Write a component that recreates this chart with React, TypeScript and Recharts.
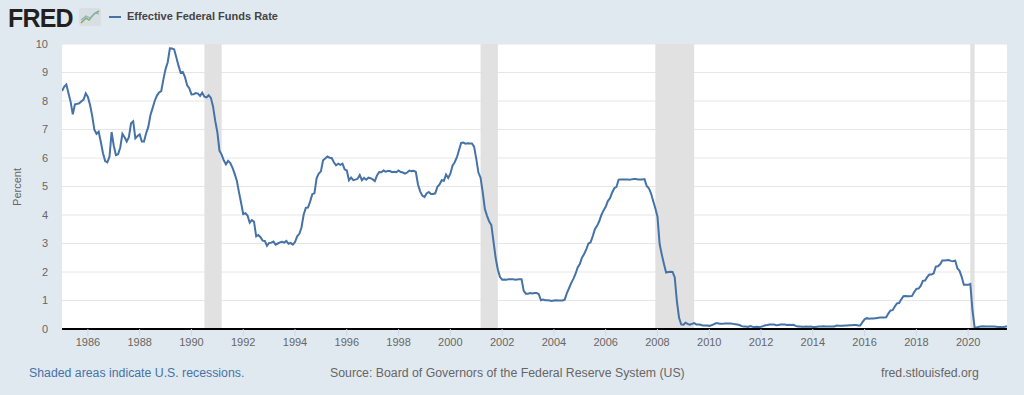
import React from 'react';
import { LineChart, Line, XAxis, YAxis, CartesianGrid, ReferenceArea } from 'recharts';

// monthly effective federal funds rate, percent, starting Jan of the first year
const START_YEAR = 1985;
const rates1980s = [
  8.35, 8.5, 8.58, 8.27, 7.97, 7.53, 7.88, 7.9, 7.92, 7.99, 8.05, 8.27,
  8.14, 7.86, 7.48, 6.99, 6.85, 6.92, 6.56, 6.17, 5.89, 5.85, 6.04, 6.91,
  6.43, 6.1, 6.13, 6.37, 6.85, 6.73, 6.58, 6.73, 7.22, 7.29, 6.69, 6.77,
  6.83, 6.58, 6.58, 6.87, 7.09, 7.51, 7.75, 8.01, 8.19, 8.3, 8.35, 8.76,
  9.12, 9.36, 9.85, 9.84, 9.81, 9.53, 9.24, 8.99, 9.02, 8.84, 8.55, 8.45,
];
const rates1990s = [
  8.23, 8.24, 8.28, 8.26, 8.18, 8.29, 8.15, 8.13, 8.2, 8.11, 7.81, 7.31,
  6.91, 6.25, 6.12, 5.91, 5.78, 5.9, 5.82, 5.66, 5.45, 5.21, 4.81, 4.43,
  4.03, 4.06, 3.98, 3.73, 3.82, 3.76, 3.25, 3.3, 3.22, 3.1, 3.09, 2.92,
  3.02, 3.03, 3.07, 2.96, 3.0, 3.04, 3.06, 3.03, 3.09, 2.99, 3.02, 2.96,
  3.05, 3.25, 3.34, 3.56, 4.01, 4.25, 4.26, 4.47, 4.73, 4.76, 5.29, 5.45,
  5.53, 5.92, 5.98, 6.05, 6.01, 6.0, 5.85, 5.74, 5.8, 5.76, 5.8, 5.6,
  5.56, 5.22, 5.31, 5.22, 5.24, 5.27, 5.4, 5.22, 5.3, 5.24, 5.31, 5.29,
  5.25, 5.19, 5.39, 5.51, 5.5, 5.56, 5.52, 5.54, 5.54, 5.5, 5.52, 5.5,
  5.56, 5.51, 5.49, 5.45, 5.49, 5.56, 5.54, 5.55, 5.51, 5.07, 4.83, 4.68,
  4.63, 4.76, 4.81, 4.74, 4.74, 4.76, 4.99, 5.07, 5.22, 5.2, 5.42, 5.3,
];
const rates2000s = [
  5.45, 5.73, 5.85, 6.02, 6.27, 6.53, 6.54, 6.5, 6.52, 6.51, 6.51, 6.4,
  5.98, 5.49, 5.31, 4.8, 4.21, 3.97, 3.77, 3.65, 3.07, 2.49, 2.09, 1.82,
  1.73, 1.74, 1.73, 1.75, 1.75, 1.75, 1.73, 1.74, 1.75, 1.75, 1.34, 1.24,
  1.24, 1.26, 1.25, 1.26, 1.26, 1.22, 1.01, 1.03, 1.01, 1.01, 1.0, 0.98,
  1.0, 1.01, 1.0, 1.0, 1.0, 1.03, 1.26, 1.43, 1.61, 1.76, 1.93, 2.16,
  2.28, 2.5, 2.63, 2.79, 3.0, 3.04, 3.26, 3.5, 3.62, 3.78, 4.0, 4.16,
  4.29, 4.49, 4.59, 4.79, 4.94, 4.99, 5.24, 5.25, 5.25, 5.25, 5.25, 5.24,
  5.25, 5.26, 5.26, 5.25, 5.25, 5.25, 5.26, 5.02, 4.94, 4.76, 4.49, 4.24,
  3.94, 2.98, 2.61, 2.28, 1.98, 2.0, 2.01, 2.0, 1.81, 0.97, 0.39, 0.16,
  0.15, 0.22, 0.18, 0.15, 0.18, 0.21, 0.16, 0.16, 0.15, 0.12, 0.12, 0.12,
];
const rates2010s = [
  0.11, 0.13, 0.16, 0.2, 0.2, 0.18, 0.18, 0.19, 0.19, 0.19, 0.19, 0.18,
  0.17, 0.16, 0.14, 0.1, 0.09, 0.09, 0.07, 0.1, 0.08, 0.07, 0.08, 0.07,
  0.08, 0.1, 0.13, 0.14, 0.16, 0.16, 0.16, 0.13, 0.14, 0.16, 0.16, 0.16,
  0.14, 0.15, 0.14, 0.15, 0.11, 0.09, 0.09, 0.08, 0.08, 0.09, 0.08, 0.09,
  0.07, 0.07, 0.08, 0.09, 0.09, 0.1, 0.09, 0.09, 0.09, 0.09, 0.09, 0.12,
  0.11, 0.11, 0.11, 0.12, 0.12, 0.13, 0.13, 0.14, 0.14, 0.12, 0.12, 0.24,
  0.34, 0.38, 0.36, 0.37, 0.37, 0.38, 0.39, 0.4, 0.4, 0.4, 0.41, 0.54,
  0.65, 0.66, 0.79, 0.9, 0.91, 1.04, 1.15, 1.16, 1.15, 1.15, 1.16, 1.3,
  1.41, 1.42, 1.51, 1.69, 1.7, 1.82, 1.91, 1.91, 1.95, 2.19, 2.2, 2.27,
  2.4, 2.4, 2.41, 2.42, 2.39, 2.38, 2.4, 2.13, 2.04, 1.83, 1.55, 1.55,
];
const rates2020s = [
  1.55, 1.58, 0.65, 0.05, 0.05, 0.08, 0.09, 0.1, 0.09, 0.09, 0.09, 0.09,
  0.09, 0.08, 0.07, 0.07, 0.06, 0.08, 0.1,
];

// recession periods (start, end) as decimal years
const recessions: [number, number][] = [
  [1990.5, 1991.167],
  [2001.167, 2001.833],
  [2007.917, 2009.417],
  [2020.083, 2020.25],
];

const yearTicks = [1986, 1988, 1990, 1992, 1994, 1996, 1998, 2000, 2002, 2004, 2006, 2008, 2010, 2012, 2014, 2016, 2018, 2020];
const percentTicks = [0, 1, 2, 3, 4, 5, 6, 7, 8, 9, 10];

const allRates = [...rates1980s, ...rates1990s, ...rates2000s, ...rates2010s, ...rates2020s];
const data = allRates.map((v, i) => ({ t: START_YEAR + i / 12, rate: v }));

const BLUE = '#4572a7';
const font = 'Arial, "Liberation Sans", sans-serif';

const FredIcon = () => (
  <svg width="22" height="18" style={{ position: 'absolute', left: 79, top: 8 }}>
    <rect x="0" y="0" width="22" height="18" rx="2" fill="#d9dee3" />
    <polyline points="2,15 7,10 10,12 15,6 20,3" fill="none" stroke="#7fb05a" strokeWidth="1.5" />
    <polyline points="2,12 7,8 11,10 16,5 20,6" fill="none" stroke="#8fb0d0" strokeWidth="1.2" />
  </svg>
);

export default function App() {
  return (
    <div style={{ position: 'relative', width: 1024, height: 395, background: '#e1e9f0', fontFamily: font, overflow: 'hidden' }}>
      <style>{`body{margin:0}`}</style>
      <div style={{ position: 'absolute', left: 8, top: 4, fontSize: 25, fontWeight: 900, color: '#231f20', letterSpacing: -0.8, fontFamily: font }}>
        FRED
      </div>
      <FredIcon />
      <div style={{ position: 'absolute', left: 109, top: 16, width: 12, height: 2, background: BLUE }} />
      <div style={{ position: 'absolute', left: 127, top: 10, fontSize: 11, fontWeight: 'bold', color: '#444' }}>
        Effective Federal Funds Rate
      </div>
      <div style={{ position: 'absolute', left: 17, top: 187, transform: 'translate(-50%, -50%) rotate(-90deg)', fontSize: 11, color: '#666' }}>
        Percent
      </div>
      <LineChart width={1024} height={395} data={data} margin={{ top: 44, right: 17, bottom: 36, left: 22 }} style={{ position: 'absolute', left: 0, top: 0 }}>
        <CartesianGrid vertical={false} stroke="#e6e6e6" fill="#ffffff" fillOpacity={1} />
        {recessions.map(([a, b]) => (
          <ReferenceArea key={a} x1={a} x2={b} fill="#e1e1e1" fillOpacity={1} stroke="none" ifOverflow="hidden" />
        ))}
        <XAxis
          dataKey="t"
          type="number"
          domain={[1985, 2021.5]}
          ticks={yearTicks}
          allowDataOverflow
          height={30}
          tickSize={7}
          tickMargin={2}
          tickLine={{ stroke: '#ccd6eb' }}
          axisLine={{ stroke: '#000', strokeWidth: 2 }}
          tick={{ fill: '#666', fontSize: 11, fontFamily: font }}
          interval={0}
        />
        <YAxis
          type="number"
          domain={[0, 10]}
          ticks={percentTicks}
          width={40}
          axisLine={false}
          tickLine={false}
          tickSize={0}
          tickMargin={14}
          tick={{ fill: '#666', fontSize: 11, fontFamily: font }}
          interval={0}
        />
        <Line type="linear" dataKey="rate" stroke={BLUE} strokeWidth={2} dot={false} isAnimationActive={false} />
      </LineChart>
      <div style={{ position: 'absolute', left: 29, top: 366, fontSize: 12.3, color: BLUE }}>
        Shaded areas indicate U.S. recessions.
      </div>
      <div style={{ position: 'absolute', left: 330, top: 366, fontSize: 12.3, color: '#666' }}>
        Source: Board of Governors of the Federal Reserve System (US)
      </div>
      <div style={{ position: 'absolute', left: 881, top: 366, fontSize: 12.3, color: '#666' }}>
        fred.stlouisfed.org
      </div>
    </div>
  );
}
